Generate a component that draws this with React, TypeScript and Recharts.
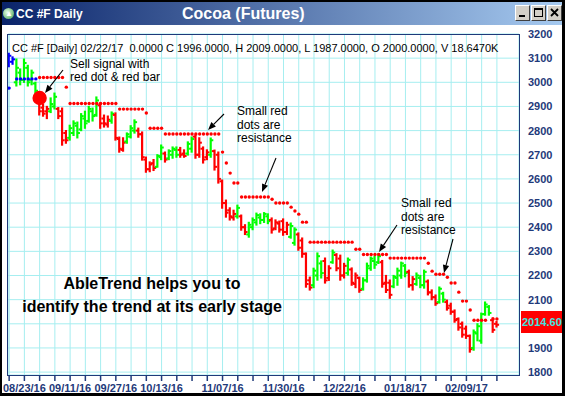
import React from "react";
import { ComposedChart, Bar, Scatter, XAxis, YAxis, CartesianGrid } from "recharts";

const NAVY = "#1f3a7a";
const FONT = "'Liberation Sans', Arial, Helvetica, sans-serif";
const COLORS: Record<string, string> = { b: "#0000ff", g: "#00ff00", r: "#ff0000" };

// trend colour of each daily bar (b = blue, g = green, r = red)
const colorCode = [
  "b", "b", "g", "g", "g", "g", "g", "g", "r", "r",
  "r", "g", "g", "r", "r", "r", "g", "g", "g", "g",
  "g", "g", "g", "g", "r", "r", "r", "g", "r", "r",
  "r", "g", "g", "g", "r", "r", "r", "r", "r", "g",
  "g", "r", "g", "g", "g", "r", "r", "g", "g", "r",
  "r", "r", "r", "g", "r", "r", "r", "r", "r", "r",
  "g", "r", "r", "g", "g", "g", "g", "g", "g", "r",
  "r", "r", "r", "r", "g", "g", "r", "r", "r", "r",
  "g", "g", "g", "r", "r", "g", "r", "r", "r", "g",
  "r", "r", "r", "g", "g", "g", "g", "g", "r", "r",
  "r", "g", "g", "g", "g", "r", "r", "g", "g", "g",
  "r", "r", "r", "g", "g", "r", "r", "r", "r", "r",
  "r", "r", "g", "g", "g", "g", "g", "r", "r",
];

const open = [
  3070, 3085, 3000, 3040, 3010, 3060, 3010, 2995, 2935, 2895,
  2880, 2880, 2900, 2890, 2880, 2790, 2770, 2790, 2820, 2805,
  2850, 2840, 2880, 2865, 2905, 2850, 2825, 2840, 2865, 2765,
  2720, 2755, 2775, 2800, 2800, 2785, 2680, 2640, 2665, 2650,
  2690, 2705, 2685, 2700, 2720, 2720, 2705, 2705, 2725, 2775,
  2700, 2725, 2690, 2700, 2715, 2700, 2590, 2500, 2470, 2440,
  2445, 2445, 2400, 2370, 2400, 2420, 2440, 2430, 2445, 2430,
  2395, 2415, 2425, 2380, 2360, 2335, 2370, 2345, 2290, 2180,
  2160, 2200, 2250, 2260, 2190, 2255, 2285, 2270, 2200, 2210,
  2225, 2165, 2190, 2145, 2180, 2230, 2260, 2255, 2255, 2170,
  2170, 2155, 2190, 2200, 2240, 2215, 2160, 2165, 2190, 2160,
  2175, 2130, 2110, 2090, 2125, 2090, 2075, 2050, 2020, 2000,
  1980, 1950, 1900, 1960, 1930, 2040, 2070, 2015, 2000,
];

const high = [
  3120, 3105, 3096, 3055, 3096, 3070, 3050, 3000, 2945, 2910,
  2900, 2935, 2955, 2895, 2893, 2800, 2822, 2840, 2835, 2870,
  2880, 2900, 2893, 2939, 2914, 2864, 2860, 2877, 2873, 2773,
  2770, 2790, 2820, 2844, 2810, 2794, 2690, 2670, 2680, 2700,
  2740, 2711, 2720, 2732, 2732, 2730, 2720, 2753, 2773, 2782,
  2770, 2732, 2720, 2769, 2719, 2711, 2595, 2512, 2480, 2470,
  2491, 2450, 2410, 2420, 2438, 2458, 2455, 2460, 2455, 2438,
  2430, 2425, 2434, 2420, 2417, 2397, 2376, 2355, 2293, 2193,
  2230, 2293, 2260, 2272, 2240, 2305, 2290, 2284, 2250, 2272,
  2231, 2210, 2193, 2190, 2251, 2276, 2280, 2290, 2262, 2200,
  2181, 2200, 2230, 2255, 2245, 2222, 2195, 2210, 2200, 2222,
  2181, 2140, 2119, 2152, 2130, 2098, 2085, 2057, 2024, 2007,
  1990, 1953, 1974, 2000, 2044, 2090, 2075, 2024, 2009,
];

const low = [
  3065, 3075, 2985, 2990, 3000, 2985, 2990, 2955, 2865, 2860,
  2850, 2875, 2890, 2850, 2740, 2748, 2761, 2780, 2770, 2800,
  2810, 2835, 2840, 2860, 2810, 2815, 2815, 2831, 2761, 2711,
  2715, 2748, 2770, 2790, 2773, 2678, 2628, 2630, 2635, 2649,
  2680, 2670, 2680, 2686, 2690, 2690, 2690, 2699, 2711, 2686,
  2690, 2666, 2680, 2690, 2637, 2583, 2479, 2442, 2430, 2430,
  2438, 2388, 2370, 2359, 2390, 2409, 2415, 2420, 2415, 2376,
  2390, 2380, 2367, 2370, 2355, 2326, 2305, 2276, 2152, 2140,
  2150, 2181, 2190, 2169, 2180, 2251, 2220, 2181, 2190, 2202,
  2160, 2150, 2131, 2140, 2173, 2222, 2230, 2250, 2152, 2130,
  2106, 2150, 2160, 2189, 2195, 2152, 2140, 2160, 2150, 2148,
  2120, 2100, 2077, 2086, 2090, 2057, 2040, 2007, 1974, 1945,
  1940, 1883, 1891, 1930, 1920, 2036, 2036, 1965, 1987,
];

const close = [
  3110, 3095, 3060, 3010, 3080, 3000, 3040, 2965, 2880, 2870,
  2890, 2910, 2940, 2860, 2760, 2760, 2810, 2830, 2790, 2860,
  2830, 2890, 2860, 2925, 2830, 2830, 2845, 2870, 2770, 2725,
  2750, 2785, 2810, 2835, 2785, 2690, 2640, 2660, 2645, 2695,
  2730, 2680, 2715, 2725, 2700, 2700, 2695, 2745, 2765, 2700,
  2750, 2680, 2710, 2760, 2650, 2600, 2500, 2460, 2445, 2455,
  2480, 2400, 2380, 2410, 2430, 2450, 2430, 2455, 2425, 2390,
  2420, 2390, 2380, 2410, 2405, 2390, 2315, 2290, 2165, 2150,
  2220, 2280, 2210, 2180, 2230, 2295, 2230, 2200, 2240, 2265,
  2170, 2200, 2140, 2180, 2240, 2270, 2245, 2280, 2165, 2140,
  2120, 2195, 2220, 2250, 2210, 2160, 2185, 2200, 2160, 2215,
  2130, 2110, 2085, 2145, 2100, 2065, 2050, 2015, 1985, 1955,
  1950, 1895, 1965, 1990, 2040, 2080, 2045, 1975, 1996,
];

// small red dots (resistance), one per bar, null where none is drawn
const resistDots = [
  null, null, null, null, null, null, null, null, 3020, 3020,
  3020, 3020, 3020, 3020, 3020, 2980, 2912, 2912, 2912, 2912,
  2912, 2912, 2912, 2912, 2912, 2912, 2912, 2912, 2912, 2889,
  2889, 2889, 2889, 2889, 2889, 2889, 2873, 2810, 2810, 2810,
  2810, 2786, 2786, 2786, 2786, 2786, 2786, 2786, 2786, 2786,
  2786, 2786, 2786, 2786, 2786, 2786, 2711, 2666, 2624, 2583,
  2583, 2525, 2525, 2525, 2525, 2525, 2525, 2525, 2525, 2516,
  2500, 2500, 2500, 2500, 2483, 2467, 2454, 2421, 2421, 2338,
  2338, 2338, 2338, 2338, 2338, 2338, 2338, 2338, 2338, 2338,
  2338, 2309, 2309, 2287, 2287, 2287, 2287, 2287, 2287, 2287,
  2272, 2272, 2272, 2272, 2272, 2272, 2272, 2272, 2272, 2272,
  2251, 2218, 2205, 2205, 2205, 2193, 2169, 2169, 2131, 2094,
  2094, 2057, 2015, 2015, 2015, 2015, null, 2020, 2020,
];

// blue dots (support) on the first bars
const supportDots = [2976, null, 3014, 3014, 3014, 3014, 3014, 3014];

// sell signal: big red dot
const sellIdx = 8;
const sellLevel = 2935;

const priceTicks = [1800, 1900, 2000, 2100, 2200, 2300, 2400, 2500, 2600, 2700, 2800, 2900, 3000, 3100, 3200];
const hiddenPriceLabel = 2000; // covered by the last-price tag
const weekTicks = [0, 4, 8, 12, 16, 20, 24, 28, 32, 36, 40, 44, 48, 52, 56, 60, 64, 68, 72, 76, 80, 84, 88, 92, 96, 100, 104, 108, 112, 116, 120, 124, 128];
const labelIdx = [4, 16, 28, 40, 56, 72, 88, 104, 120];
const labelText = ["08/23/16", "09/11/16", "09/27/16", "10/13/16", "11/07/16", "11/30/16", "12/22/16", "01/18/17", "02/09/17"];

const bars = open.map((o, i) => ({ i, open: o, high: high[i], low: low[i], close: close[i], code: colorCode[i] }));
const redPts = resistDots.map((v, i) => ({ i, v })).filter((p) => p.v != null);
const bluePts = supportDots.map((v, i) => ({ i, v })).filter((p) => p.v != null);
const sellPts = [{ i: sellIdx, v: sellLevel }];

const fmtDate = (v: number) => {
  const k = labelIdx.indexOf(v);
  return k >= 0 ? labelText[k] : "";
};
const fmtPrice = (v: number) => (v === hiddenPriceLabel ? "" : String(v));

const OhlcShape = (props: any) => {
  const { x, y, width, height, payload } = props;
  if (!payload || height == null || y == null) return null;
  const top = Math.min(y, y + height);
  const h = Math.abs(height);
  const span = payload.high - payload.low || 1;
  const at = (v: number) => top + ((payload.high - v) / span) * h;
  const cx = x + width / 2;
  const c = COLORS[payload.code];
  return (
    <g>
      <line x1={cx} x2={cx} y1={top - 0.6} y2={top + h + 0.6} stroke={c} strokeWidth={2.2} />
      <line x1={cx - 2.6} x2={cx} y1={at(payload.open)} y2={at(payload.open)} stroke={c} strokeWidth={2} />
      <line x1={cx} x2={cx + 2.6} y1={at(payload.close)} y2={at(payload.close)} stroke={c} strokeWidth={2} />
    </g>
  );
};

const dot = (color: string, r: number) => (p: any) =>
  p.cx == null ? <g /> : <circle cx={p.cx} cy={p.cy} r={r} fill={color} />;

const Arrow = ({ x1, y1, x2, y2 }: { x1: number; y1: number; x2: number; y2: number }) => {
  const a = Math.atan2(y2 - y1, x2 - x1);
  const L = 8;
  const w = 3.2;
  const bx = x2 - L * Math.cos(a);
  const by = y2 - L * Math.sin(a);
  const pts = `${x2},${y2} ${bx + w * Math.sin(a)},${by - w * Math.cos(a)} ${bx - w * Math.sin(a)},${by + w * Math.cos(a)}`;
  return (
    <g>
      <line x1={x1} y1={y1} x2={bx} y2={by} stroke="#000" strokeWidth={1.1} />
      <polygon points={pts} fill="#000" />
    </g>
  );
};

const btn: React.CSSProperties = {
  position: "absolute",
  top: 5,
  width: 15,
  height: 16,
  boxSizing: "border-box",
  background: "#d4d0c8",
  borderStyle: "solid",
  borderWidth: 1,
  borderColor: "#ffffff #404040 #404040 #ffffff",
};

export default function App() {
  return (
    <div style={{ position: "absolute", left: 0, top: 0, width: 565, height: 396, background: "#fff", overflow: "hidden", fontFamily: FONT }}>
      {/* title bar */}
      <div style={{ position: "absolute", left: 2, top: 2, width: 561, height: 23, background: "linear-gradient(to right, #0a246a, #a6caf0)" }} />
      <div style={{ position: "absolute", left: 3, top: 8, width: 11, height: 11, borderRadius: 6, background: "radial-gradient(circle at 40% 40%, #e8ffe8, #3a9a4a)" }}>
        <div style={{ position: "absolute", left: 2, top: 1, fontSize: 8, color: "#fff", lineHeight: "9px" }}>▲</div>
      </div>
      <div style={{ position: "absolute", left: 16, top: 6, color: "#fff", fontSize: 12, fontWeight: 700, lineHeight: "16px", whiteSpace: "pre" }}>CC #F Daily</div>
      <div style={{ position: "absolute", left: 182, top: 4, color: "#fff", fontSize: 16, fontWeight: 700, lineHeight: "20px", whiteSpace: "pre" }}>Cocoa (Futures)</div>
      <div style={{ ...btn, left: 515 }}>
        <div style={{ position: "absolute", left: 3, top: 9, width: 6, height: 2, background: "#000" }} />
      </div>
      <div style={{ ...btn, left: 531 }}>
        <div style={{ position: "absolute", left: 2, top: 2, width: 9, height: 9, boxSizing: "border-box", border: "1px solid #000", borderTopWidth: 2 }} />
      </div>
      <div style={{ ...btn, left: 547 }}>
        <svg width={13} height={14} style={{ position: "absolute", left: 0, top: 0 }}>
          <path d="M3 3 L10 10 M10 3 L3 10" stroke="#000" strokeWidth={1.8} />
        </svg>
      </div>

      {/* chart */}
      <div style={{ position: "absolute", left: 0, top: 0 }}>
        <ComposedChart width={565} height={396} data={bars} margin={{ top: 34, right: 6, bottom: 3, left: 8 }}>
          <CartesianGrid stroke="#a6eef0" strokeWidth={1} />
          <XAxis
            type="number"
            dataKey="i"
            domain={[-0.3, 133.8]}
            ticks={weekTicks}
            interval={0}
            allowDataOverflow
            tickFormatter={fmtDate}
            tick={{ fill: NAVY, fontSize: 11, fontWeight: 700, fontFamily: FONT }}
            tickLine={{ stroke: NAVY, strokeWidth: 1.5 }}
            tickSize={6}
            tickMargin={3}
            axisLine={false}
            height={18}
          />
          <YAxis
            orientation="right"
            type="number"
            domain={[1788, 3200]}
            ticks={priceTicks}
            interval={0}
            allowDataOverflow
            tickFormatter={fmtPrice}
            tickLine={false}
            axisLine={false}
            tickSize={7}
            tickMargin={2}
            width={40}
            tick={{ fill: NAVY, fontSize: 11, fontWeight: 700, fontFamily: FONT }}
          />
          <Bar dataKey={(d: any) => [d.low, d.high]} barSize={3} shape={OhlcShape} isAnimationActive={false} />
          <Scatter data={redPts} dataKey="v" shape={dot("#ff0000", 1.7)} isAnimationActive={false} />
          <Scatter data={bluePts} dataKey="v" shape={dot("#0000ff", 1.7)} isAnimationActive={false} />
          <Scatter data={sellPts} dataKey="v" shape={dot("#ff0000", 7.2)} isAnimationActive={false} />
        </ComposedChart>
      </div>

      {/* plot frame */}
      <div style={{ position: "absolute", left: 7, top: 34, width: 513, height: 342, boxSizing: "border-box", border: `1.5px solid ${NAVY}` }} />

      {/* annotations */}
      <svg width={565} height={396} style={{ position: "absolute", left: 0, top: 0, pointerEvents: "none" }}>
        <text x={12} y={51.5} fontSize={11} fill="#000" fontFamily={FONT} style={{ whiteSpace: "pre" }}>
          {"CC #F [Daily] 02/22/17  0.0000 C 1996.0000, H 2009.0000, L 1987.0000, O 2000.0000, V 18.6470K"}
        </text>

        <g fontSize={12} fill="#000" fontFamily={FONT}>
          <text x={70} y={68}>Sell signal with</text>
          <text x={70} y={81}>red dot &amp; red bar</text>
          <text x={237} y={115}>Small red</text>
          <text x={237} y={128.5}>dots are</text>
          <text x={237} y={142}>resistance</text>
          <text x={401} y={207}>Small red</text>
          <text x={401} y={220.5}>dots are</text>
          <text x={401} y={234}>resistance</text>
        </g>

        <Arrow x1={63} y1={70} x2={45} y2={93} />
        <Arrow x1={224} y1={114} x2={208} y2={130} />
        <Arrow x1={276} y1={158} x2={262} y2={192} />
        <Arrow x1={397} y1={225} x2={379} y2={252} />
        <Arrow x1={453} y1={239} x2={444} y2={273} />

        <g fontSize={16} fontWeight={700} fill="#000" fontFamily={FONT} textAnchor="middle">
          <text x={152} y={289}>AbleTrend helps you to</text>
          <text x={152} y={312}>identify the trend at its early stage</text>
        </g>
      </svg>

      {/* last price tag */}
      <div style={{ position: "absolute", left: 521, top: 311, width: 44, height: 22, background: "#ff0000" }}>
        <div style={{ position: "absolute", left: 1, top: 4, color: "#3ee6e0", fontSize: 11, fontWeight: 700, lineHeight: "14px", whiteSpace: "pre" }}>2014.60</div>
      </div>

      {/* window border */}
      <div style={{ position: "absolute", left: 0, top: 0, width: 565, height: 396, boxSizing: "border-box", borderStyle: "solid", borderColor: "#000", borderWidth: "2px 3px 3px 2px", pointerEvents: "none" }} />
    </div>
  );
}
